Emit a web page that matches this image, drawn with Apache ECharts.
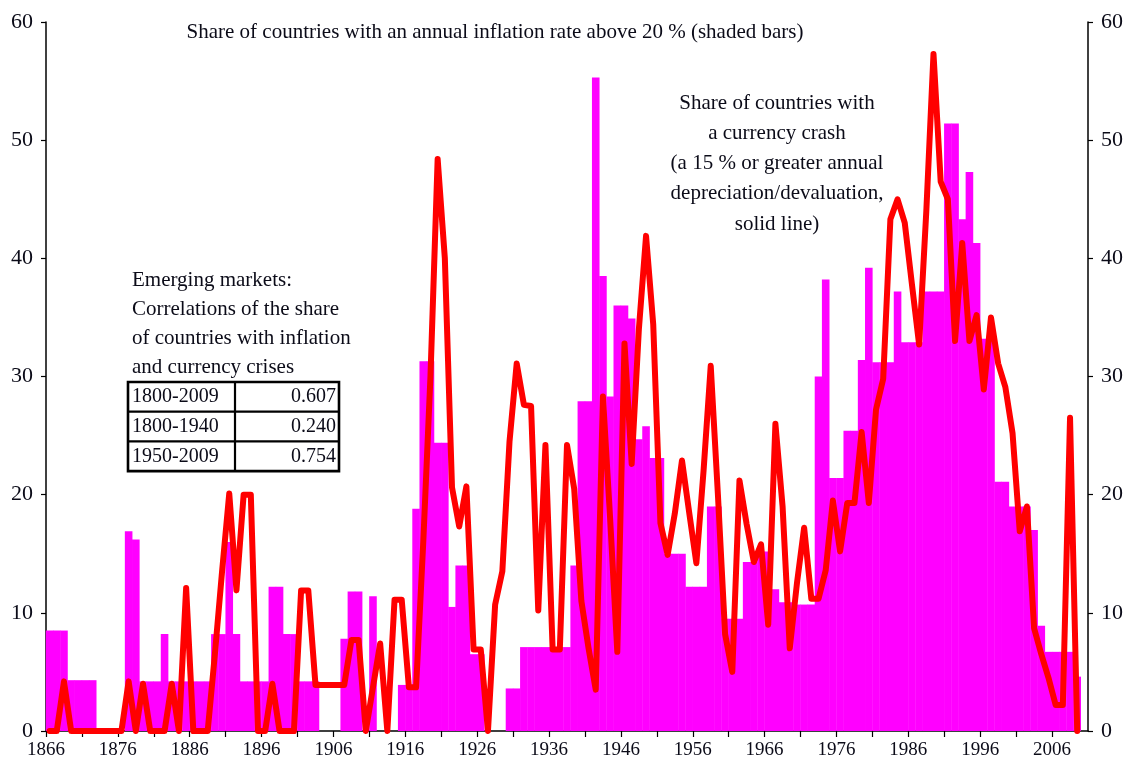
<!DOCTYPE html>
<html>
<head>
<meta charset="utf-8">
<script src="https://cdn.jsdelivr.net/npm/echarts@6/dist/echarts.min.js"></script>
<style>
html,body{margin:0;padding:0;background:#ffffff;}
#chart{width:1128px;height:778px;}
</style>
</head>
<body>
<div id="chart"></div>
<script>
// ---- data ----
const firstYear = 1866;
const axisYearMin = 1866;
const axisYearMax = 2011;

// share of countries with annual inflation above 20 % (bars), 1866-2009
const inflationShare = [
  8.5, 8.5, 8.5, 4.3, 4.3, 4.3, 4.3, 0, 0, 0,
  0, 16.9, 16.2, 4.2, 4.2, 4.2, 8.2, 4.2, 4.2, 4.2,
  4.2, 4.2, 4.2, 8.2, 8.2, 16, 8.2, 4.2, 4.2, 4.2,
  4.2, 12.2, 12.2, 8.2, 8.2, 4.2, 4.2, 4.2, 0, 0,
  0, 7.8, 11.8, 11.8, 0, 11.4, 0, 0, 0, 3.9,
  3.9, 18.8, 31.3, 31.3, 24.4, 24.4, 10.5, 14, 14, 6.5,
  6.5, 0, 0, 0, 3.6, 3.6, 7.1, 7.1, 7.1, 7.1,
  7.1, 7.1, 7.1, 14, 27.9, 27.9, 55.3, 38.5, 28.3, 36.0,
  36.0, 34.9, 24.7, 25.8, 23.1, 23.1, 15.0, 15.0, 15.0, 12.2,
  12.2, 12.2, 19.0, 19.0, 9.5, 9.5, 9.5, 14.3, 14.3, 15.2,
  15.2, 12.0, 10.9, 10.9, 10.7, 10.7, 10.7, 30.0, 38.2, 21.4,
  21.4, 25.4, 25.4, 31.4, 39.2, 31.2, 31.2, 31.2, 37.2, 32.9,
  32.9, 32.9, 37.2, 37.2, 37.2, 51.4, 51.4, 43.3, 47.3, 41.3,
  33.2, 33.2, 21.1, 21.1, 19.0, 19.0, 19.0, 17.0, 8.9, 6.7,
  6.7, 6.7, 6.7, 4.6
];

// share of countries with a currency crash (solid line), 1866-2009
const currencyCrashShare = [
  0, 0, 4.2, 0, 0, 0, 0, 0, 0, 0,
  0, 4.2, 0, 4.0, 0, 0, 0, 4.0, 0, 12.1,
  0, 0, 0, 6.5, 13.5, 20.1, 11.9, 20, 20, 0,
  0, 4.0, 0, 0, 0, 11.9, 11.9, 3.9, 3.9, 3.9,
  3.9, 3.9, 7.7, 7.7, 0, 3.7, 7.4, 0, 11.1, 11.1,
  3.7, 3.7, 16, 30, 48.4, 40, 20.6, 17.3, 20.7, 6.9,
  6.9, 0, 10.7, 13.5, 24.5, 31.1, 27.6, 27.5, 10.2, 24.2,
  6.9, 6.9, 24.2, 20.5, 11, 7, 3.5, 28.3, 18, 6.7,
  32.8, 22.6, 34, 41.9, 34.4, 17.6, 14.9, 18.4, 22.9, 18.5,
  14.2, 22, 30.9, 20, 8.2, 5.0, 21.2, 17.5, 14.3, 15.8,
  9.0, 26.0, 19, 7.0, 12.5, 17.2, 11.2, 11.2, 13.6, 19.5,
  15.2, 19.3, 19.3, 25.3, 19.3, 27.2, 29.8, 43.3, 45.0, 43.0,
  37.8, 32.7, 44, 57.3, 46.5, 45.0, 33.0, 41.3, 33.0, 35.2,
  28.9, 35.0, 31.1, 29.1, 25.2, 16.9, 19.0, 8.7, 6.5, 4.5,
  2.2, 2.2, 26.5, 0
];

const yTickMin = 0, yTickMax = 60, yTickStep = 10;
const xTickStep = 5, xLabelStep = 10;

const titleText = 'Share of countries with an annual inflation rate above 20 % (shaded bars)';
const crashNote = ['Share of countries with', 'a currency crash', '(a 15 % or greater annual', 'depreciation/devaluation,', 'solid line)'];
const corrNote = ['Emerging markets:', 'Correlations of the share', 'of countries with inflation', 'and currency crises'];
const corrPeriods = ['1800-2009', '1800-1940', '1950-2009'];
const corrValues = ['0.607', '0.240', '0.754'];

// ---- build ----
const years = inflationShare.map((_, i) => firstYear + i);
const barData = years.map((y, i) => [y + 0.5, inflationShare[i]]);
const lineData = years.map((y, i) => [y + 0.5, currencyCrashShare[i]]);

const serif = '"Liberation Serif", "Times New Roman", serif';
const textColor = '#0b0b18';

const graphics = [];
graphics.push({
  type: 'text', z: 50,
  style: { text: titleText, x: 495, y: 32, textAlign: 'center', textVerticalAlign: 'middle',
           font: '21px ' + serif, fill: textColor }
});
crashNote.forEach((t, i) => graphics.push({
  type: 'text', z: 50,
  style: { text: t, x: 777, y: 103 + 30.3 * i, textAlign: 'center', textVerticalAlign: 'middle',
           font: '21px ' + serif, fill: textColor }
}));
corrNote.forEach((t, i) => graphics.push({
  type: 'text', z: 50,
  style: { text: t, x: 132, y: 280 + 29.3 * i, textAlign: 'left', textVerticalAlign: 'middle',
           font: '21px ' + serif, fill: textColor }
}));
// correlation table
const tX0 = 128, tX1 = 339, tXm = 235, tY0 = 382, tRow = 29.7;
graphics.push({ type: 'rect', z: 50, shape: { x: tX0, y: tY0, width: tX1 - tX0, height: tRow * 3 },
  style: { fill: '#ffffff', stroke: '#000', lineWidth: 2.6 } });
for (let r = 1; r < 3; r++) {
  graphics.push({ type: 'line', z: 51, shape: { x1: tX0, y1: tY0 + tRow * r, x2: tX1, y2: tY0 + tRow * r },
    style: { stroke: '#000', lineWidth: 2.2 } });
}
graphics.push({ type: 'line', z: 51, shape: { x1: tXm, y1: tY0, x2: tXm, y2: tY0 + tRow * 3 },
  style: { stroke: '#000', lineWidth: 2.2 } });
corrPeriods.forEach((p, r) => {
  graphics.push({ type: 'text', z: 52, style: { text: p, x: tX0 + 4, y: tY0 + tRow * (r + 0.5),
    textAlign: 'left', textVerticalAlign: 'middle', font: '20px ' + serif, fill: textColor } });
  graphics.push({ type: 'text', z: 52, style: { text: corrValues[r], x: tX1 - 3, y: tY0 + tRow * (r + 0.5),
    textAlign: 'right', textVerticalAlign: 'middle', font: '20px ' + serif, fill: textColor } });
});

const yAxisBase = {
  type: 'value', min: yTickMin, max: yTickMax, interval: yTickStep,
  axisLine: { show: true, lineStyle: { color: '#000', width: 1.5 } },
  axisTick: { show: true, inside: false, length: 5, lineStyle: { color: '#000', width: 1.2 } },
  axisLabel: { color: textColor, fontFamily: serif, fontSize: 22, margin: 13 },
  splitLine: { show: false }
};

const chart = echarts.init(document.getElementById('chart'), null, { renderer: 'canvas' });
chart.setOption({
  animation: false,
  backgroundColor: '#ffffff',
  grid: { left: 46, right: 40, top: 22, bottom: 47, containLabel: false },
  xAxis: {
    type: 'value', min: axisYearMin, max: axisYearMax, interval: xTickStep,
    axisLine: { show: true, onZero: false, lineStyle: { color: '#000', width: 1.5 } },
    axisTick: { show: true, inside: false, length: 6, lineStyle: { color: '#000', width: 1.2 } },
    axisLabel: {
      color: textColor, fontFamily: serif, fontSize: 19, margin: 10,
      showMaxLabel: false,
      formatter: v => ((v - axisYearMin) % xLabelStep === 0 ? String(v) : '')
    },
    splitLine: { show: false }
  },
  yAxis: [
    Object.assign({}, yAxisBase, { position: 'left' }),
    Object.assign({}, yAxisBase, { position: 'right' })
  ],
  series: [
    {
      name: 'Inflation above 20 %', type: 'bar', data: barData, barWidth: 7.6,
      itemStyle: { color: '#ff00ff' }, z: 2, silent: true
    },
    {
      name: 'Currency crash', type: 'line', data: lineData, showSymbol: false, symbol: 'none',
      lineStyle: { color: '#ff0000', width: 6, join: 'round', cap: 'round' }, z: 3, silent: true
    }
  ],
  graphic: graphics
});
</script>
</body>
</html>
